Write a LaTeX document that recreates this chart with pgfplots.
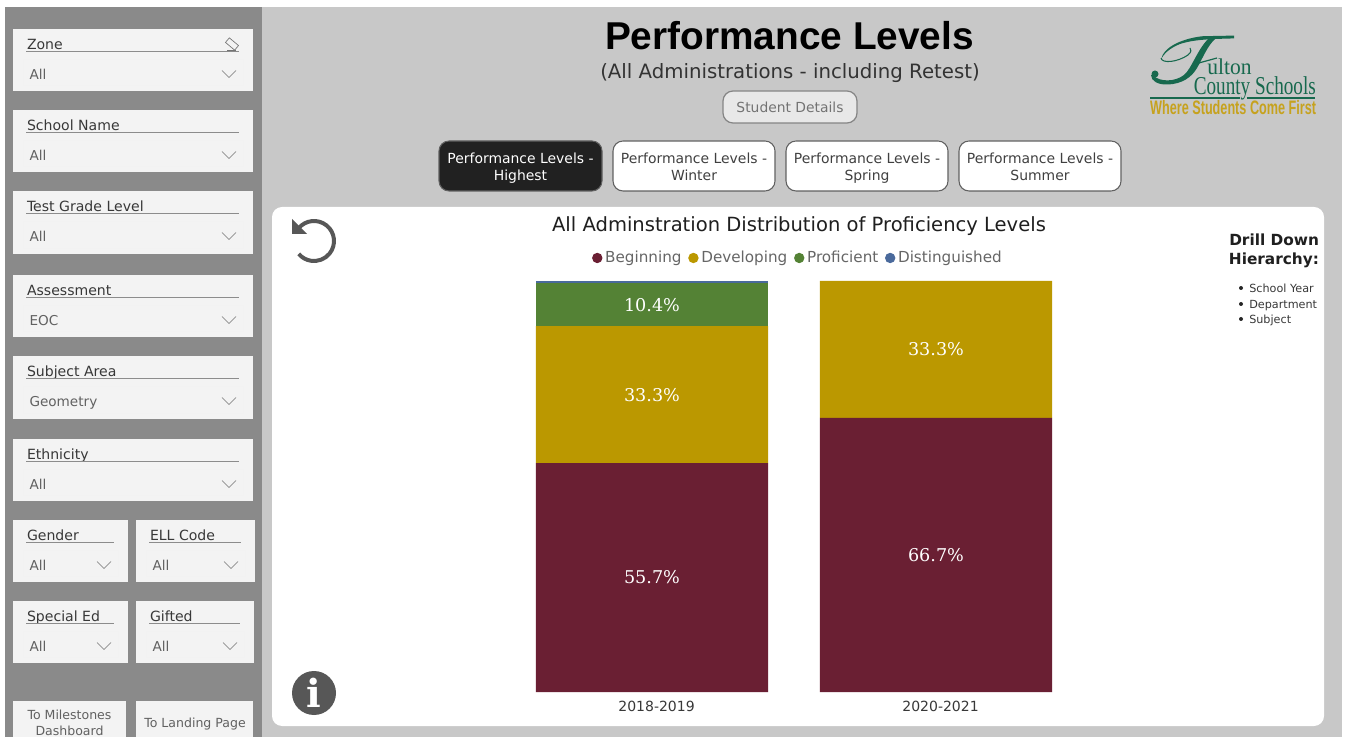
\documentclass[border=0pt]{standalone}
\usepackage{pgfplots}
\usepackage{fontspec}
\pgfplotsset{compat=1.18}
\setmainfont{DejaVu Sans}
\newfontfamily\headfont{Liberation Sans}
\newfontfamily\labelfont{DejaVu Serif}
\newfontfamily\logofont{Liberation Serif}
\newcommand\fs[2]{\fontsize{#1}{#2}\selectfont}

\definecolor{cBeginning}{HTML}{6A1F33}
\definecolor{cDeveloping}{HTML}{BB9800}
\definecolor{cProficient}{HTML}{548235}
\definecolor{cDistinguished}{HTML}{4A6A9C}
\definecolor{pageGrey}{HTML}{C8C8C8}
\definecolor{sideGrey}{HTML}{8A8A8A}
\definecolor{cardGrey}{HTML}{F3F3F3}
\definecolor{logoGreen}{HTML}{17694E}
\definecolor{logoGold}{HTML}{C6A21E}

\tikzset{
  txt/.style={inner sep=0pt,outer sep=0pt,anchor=base west},
  ctr/.style={inner sep=0pt,outer sep=0pt,anchor=base,align=center},
  rgt/.style={inner sep=0pt,outer sep=0pt,anchor=base east},
}

% A filter card: x0, y0, x1, y1, heading, selection, right end of rule
\newcommand\slicer[7]{
  \fill[cardGrey] (#1,#2) rectangle (#3,#4);
  \node[txt,text=black!78] at (#1+14,#2+20.8) {\fs{10.55}{12}#5};
  \draw[black!45,line width=0.7pt] (#1+13,#2+22.5) -- (#7,#2+22.5);
  \draw[black!5,line width=0.5pt] (#1+10,#2+30) rectangle (#3-10,#4-6);
  \node[txt,text=black!62] at (#1+16.5,#2+50.3) {\fs{10.2}{12}#6};
  \draw[black!55,line width=0.5pt] (#3-31,#2+41.5) -- (#3-24,#2+48.5) -- (#3-17,#2+41.5);
}

% Tab button with two centred lines: x0, x1, fill, text, first line, second line
\newcommand\tabbutton[6]{
  \draw[rounded corners=7.5pt,fill=#3,draw=black!62,line width=0.8pt] (#1,141) rectangle (#2,191);
  \node[ctr,text=#4] at ({(#1+#2)/2},163.5) {\fs{10.45}{12.7}#5};
  \node[ctr,text=#4] at ({(#1+#2)/2},180.5) {\fs{10.45}{12.7}#6};
}

\begin{document}
\begin{tikzpicture}
\begin{scope}[x=0.75pt,y=-0.75pt]
  \path[use as bounding box] (0,0) rectangle (1350,737);
  \fill[white] (0,0) rectangle (1350,737);
  \fill[pageGrey] (262,7) rectangle (1342,737);
  \fill[sideGrey] (5,7) rectangle (262,737);

  % filter column
  \slicer{13}{29}{253}{91}{Zone}{All}{239}
  \slicer{13}{110}{253}{172}{School Name}{All}{239}
  \slicer{13}{191}{253}{254}{Test Grade Level}{All}{239}
  \slicer{13}{275}{253}{337}{Assessment}{EOC}{239}
  \slicer{13}{356}{253}{419}{Subject Area}{Geometry}{239}
  \slicer{13}{439}{253}{501}{Ethnicity}{All}{239}
  \slicer{13}{520}{128}{582}{Gender}{All}{114}
  \slicer{136}{520}{255}{582}{ELL Code}{All}{241}
  \slicer{13}{601}{128}{663}{Special Ed}{All}{114}
  \slicer{136}{601}{254}{663}{Gifted}{All}{240}

  % eraser glyph on the first card
  \draw[black!55,line width=0.5pt,rotate around={-40:(232,44)}] (226,41) rectangle (238,47);
  \draw[black!55,line width=0.5pt] (227,50) -- (236,50);

  % navigation buttons
  \fill[cardGrey] (13,701) rectangle (126,737);
  \fill[cardGrey] (136,701) rectangle (253,737);
  \node[ctr,text=black!62] at (69.5,719) {\fs{9.4}{12}To Milestones};
  \node[ctr,text=black!62] at (69.5,735) {\fs{9.4}{12}Dashboard};
  \node[ctr,text=black!62] at (195,727) {\fs{9.4}{12}To Landing Page};

  % page heading
  \node[ctr,text=black] at (789.5,50) {\fs{29.1}{32}\headfont\bfseries Performance Levels};
  \node[ctr,text=black!80] at (790,79) {\fs{14.8}{17}(All Administrations - including Retest)};
  \draw[rounded corners=7.5pt,fill=black!9,draw=black!48,line width=0.9pt] (723,91) rectangle (857,123);
  \node[ctr,text=black!55] at (790,112.5) {\fs{10.4}{12}Student Details};

  % tabs
  \tabbutton{439}{602}{black!87}{white}{Performance Levels -}{Highest}
  \tabbutton{613}{775}{white}{black!75}{Performance Levels -}{Winter}
  \tabbutton{786}{948}{white}{black!75}{Performance Levels -}{Spring}
  \tabbutton{959}{1121}{white}{black!75}{Performance Levels -}{Summer}

  % chart card
  \fill[white,rounded corners=7.5pt] (272,207) rectangle (1324,726);
  \node[ctr,text=black!88] at (799,231.8) {\fs{14.66}{17}All Adminstration Distribution of Proficiency Levels};

  % undo glyph
  \draw[black!66,line width=3pt] (314,241) ++(-141:20) arc[start angle=-141,end angle=140,radius=20];
  \fill[black!66] (292,219) -- (292,234) -- (307,234) -- cycle;

  % information glyph
  \fill[black!66] (314,693) circle (22);
  \node[inner sep=0pt,text=white] at (314,692.5) {\fs{29}{30}\labelfont\bfseries i};

  % side note
  \node[rgt,text=black!88] at (1319,245.5) {\fs{11.5}{14}\bfseries Drill Down};
  \node[rgt,text=black!88] at (1319,264.5) {\fs{11.5}{14}\bfseries Hierarchy:};
  \foreach \yy/\tt in {288/School Year,304/Department,319/Subject}{
    \fill[black!85] (1241,\yy) circle (2);
    \node[anchor=base west,inner sep=0pt,text=black!78] at (1249,\yy+4.5) {\fs{8.4}{10}\tt};
  }

  % district mark
  \fill[logoGreen] (1161,60) .. controls (1163,46) and (1185,38) .. (1203,36.2) -- (1234,35.6)
    -- (1234,38.4) .. controls (1215,39) and (1195,39) .. (1180,44) .. controls (1170,48) and (1163,54) .. cycle;
  \fill[logoGreen] (1216,38) .. controls (1207,46) and (1203,58) .. (1197,68)
    .. controls (1192,77) and (1182,84) .. (1168,84.5) .. controls (1158,85) and (1151,81) .. (1151,75)
    -- (1154,76) .. controls (1160,82) and (1175,82) .. (1184,75)
    .. controls (1192,68) and (1196,52) .. (1208,39) -- cycle;
  \fill[logoGreen] (1155,74) circle (3.5);
  \draw[logoGreen,line width=0.8pt] (1161,58) .. controls (1162,64) and (1178,62) .. (1188,55) .. controls (1192,52) and (1191,49) .. (1190,48);
  \draw[logoGreen,line width=0.9pt] (1197,63.5) -- (1217,58);
  \draw[logoGreen,line width=1pt] (1150,98) -- (1240,98);
  \draw[logoGreen,line width=1pt] (1247,98) -- (1315,98);
  \node[anchor=base west,inner sep=0pt,text=logoGreen,xscale=0.95] at (1207,75) {\fs{17}{20}\logofont ulton};
  \node[anchor=base east,inner sep=0pt,text=logoGreen,xscale=0.745] at (1316,95) {\fs{19.3}{22}\logofont County Schools};
  \node[anchor=base west,inner sep=0pt,text=logoGold,xscale=0.65] at (1150,115) {\fs{14.6}{16}\headfont\bfseries Where Students Come First};
\end{scope}

\begin{axis}[
  at={(382.5pt,-519pt)},anchor=south west,
  scale only axis,width=426pt,height=308.25pt,
  ybar stacked,bar width=0.817,
  xmin=-0.5,xmax=1.5,ymin=0,ymax=100,
  xtick={0,1},xticklabels={\mbox{2018-2019},\mbox{2020-2021}},
  ytick=\empty,axis line style={draw=none},
  major tick length=0pt,clip=false,
  xticklabel style={font=\fs{10.5}{12},text=black!78,yshift=-3pt,xshift=3.4pt},
  legend columns=4,
  legend style={draw=none,fill=none,at={(0.5075,1.056)},anchor=center,
    font=\fs{11.4}{13},text=black!60,/tikz/every even column/.append style={column sep=3pt},
    inner sep=0pt},
  legend cell align=left,
  /pgf/number format/assume math mode=true,
  visualization depends on={rawy \as \rawy},
  nodes near coords={\pgfmathprintnumber[fixed,fixed zerofill,precision=1,assume math mode=true]{\rawy}\%},
  every node near coord/.append style={anchor=center,text=white,font=\fs{13.2}{15}\labelfont},
]
\addplot+[ybar,fill=cBeginning,draw=none,
  legend image code/.code={\fill[cBeginning] (0.3em,0) circle (3.9pt);}]
  coordinates {(0,55.7) (1,66.7)};
\addlegendentry{Beginning}
\addplot+[ybar,fill=cDeveloping,draw=none,
  legend image code/.code={\fill[cDeveloping] (0.3em,0) circle (3.9pt);}]
  coordinates {(0,33.3) (1,33.3)};
\addlegendentry{Developing}
\addplot+[ybar,fill=cProficient,draw=none,
  legend image code/.code={\fill[cProficient] (0.3em,0) circle (3.9pt);}]
  coordinates {(0,10.4)};
\addlegendentry{Proficient}
\addplot+[ybar,fill=cDistinguished,draw=none,nodes near coords={},
  legend image code/.code={\fill[cDistinguished] (0.3em,0) circle (3.9pt);}]
  coordinates {(0,0.6)};
\addlegendentry{Distinguished}
\end{axis}
\end{tikzpicture}
\end{document}
